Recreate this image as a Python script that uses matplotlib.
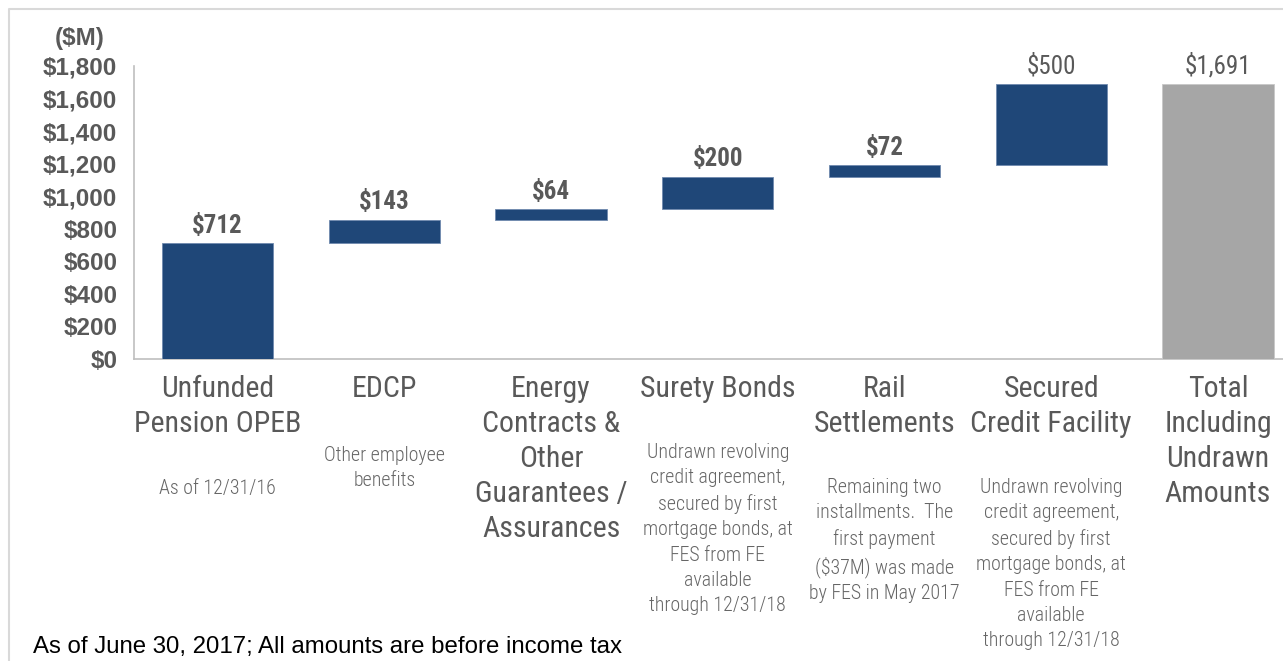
import matplotlib
matplotlib.use("Agg")
import matplotlib.pyplot as plt
import matplotlib.transforms as mtransforms
from matplotlib.lines import Line2D
import numpy as np

categories = ["Unfunded\nPension OPEB", "EDCP", "Energy\nContracts &\nOther\nGuarantees /\nAssurances",
              "Surety Bonds", "Rail\nSettlements", "Secured\nCredit Facility",
              "Total\nIncluding\nUndrawn\nAmounts"]
notes = ["As of 12/31/16", "Other employee\nbenefits", "",
         "Undrawn revolving\ncredit agreement,\nsecured by first\nmortgage bonds, at\nFES from FE\navailable\nthrough 12/31/18",
         "Remaining two\ninstallments.  The\nfirst payment\n($37M) was made\nby FES in May 2017",
         "Undrawn revolving\ncredit agreement,\nsecured by first\nmortgage bonds, at\nFES from FE\navailable\nthrough 12/31/18",
         ""]
increments = [712, 143, 64, 200, 72, 500]
total = 1691
value_labels = ["$712", "$143", "$64", "$200", "$72", "$500", "$1,691"]
yticks = [0, 200, 400, 600, 800, 1000, 1200, 1400, 1600, 1800]

W, H = 1283, 661
fig = plt.figure(figsize=(W / 100, H / 100), dpi=100)
ax = fig.add_axes([134 / W, 1 - 359 / H, 1 - 134 / W, (359 - 66) / H])

BLUE = "#1F4778"
GRAY_BAR = "#A6A6A6"
TXT = "#595959"
NARROW = ["Roboto Condensed", "DejaVu Sans"]

bottoms = np.concatenate([[0], np.cumsum(increments)[:-1]])
x = np.arange(len(categories))
ax.bar(x[:6], increments, bottom=bottoms, width=0.667, color=BLUE,
       edgecolor="#6F8AAE", linewidth=0.6, zorder=3)
ax.bar(x[6], total, width=0.667, color=GRAY_BAR, edgecolor="#C8C8C8",
       linewidth=0.6, zorder=3)

tops = list(bottoms + np.array(increments)) + [total]
for i, (t, lab) in enumerate(zip(tops, value_labels)):
    ax.annotate(lab, (x[i], t), xytext=(0, 4), textcoords="offset points",
                ha="center", va="bottom", fontsize=18, color=TXT,
                family=NARROW, fontweight="bold" if i < 5 else "normal")

ax.set_xlim(-0.501, 6.39)
ax.set_ylim(0, 1800)
ax.set_yticks(yticks)
ax.set_yticklabels([f"${v:,}" for v in yticks], fontsize=17.5, fontweight="bold",
                   color=TXT, family="Liberation Sans")
ax.tick_params(axis="y", length=0, pad=12)
ax.set_xticks([])
for s in ["top", "right"]:
    ax.spines[s].set_visible(False)
for s in ["left", "bottom"]:
    ax.spines[s].set_color("#BFBFBF")
    ax.spines[s].set_linewidth(1.2)

trans = mtransforms.blended_transform_factory(ax.transData, fig.transFigure)
for i, c in enumerate(categories):
    ax.text(x[i], 1 - 375 / H, c, transform=trans, ha="center", va="top",
            fontsize=21.5, color=TXT, family=NARROW, linespacing=1.32)
note_top = [479, 446, None, 443, 478, 478, None]
for i, n in enumerate(notes):
    if n:
        ax.text(x[i], 1 - note_top[i] / H, n, transform=trans, ha="center",
                va="top", fontsize=14.3, color="#666666", family=NARROW,
                fontweight="light", linespacing=1.42)

fig.text(80 / W, 1 - 38 / H, "($M)", ha="center", va="center", fontsize=17.5,
         fontweight="bold", color=TXT, family="Liberation Sans")
fig.text(33 / W, 1 - 647 / H, "As of June 30, 2017; All amounts are before income tax",
         ha="left", va="center", fontsize=17.3, color="black", family="Liberation Sans")

fig.add_artist(Line2D([9 / W, 9 / W, 1], [0, 1 - 9 / H, 1 - 9 / H],
                      transform=fig.transFigure, color="#D9D9D9", linewidth=1.5))

fig.savefig("out.png", dpi=100)
